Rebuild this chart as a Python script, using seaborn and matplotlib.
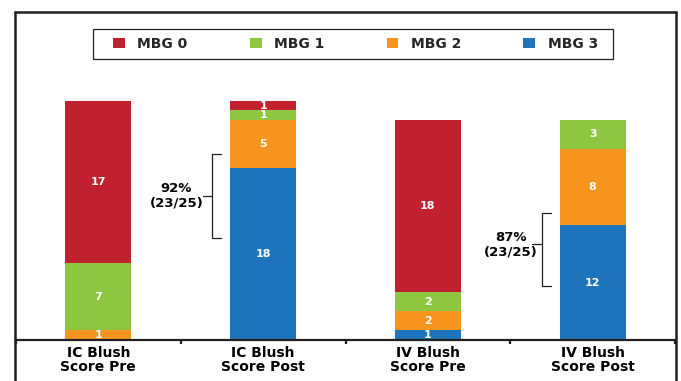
import matplotlib
matplotlib.use("Agg")
import matplotlib.pyplot as plt
from matplotlib.patches import Patch, Rectangle
from matplotlib.lines import Line2D
import numpy as np
import pandas as pd
import seaborn as sns

# Blush grade counts per assessment
categories = ["IC Blush\nScore Pre", "IC Blush\nScore Post",
              "IV Blush\nScore Pre", "IV Blush\nScore Post"]
grades = ["MBG 0", "MBG 1", "MBG 2", "MBG 3"]
mbg0 = [17, 1, 18, 0]
mbg1 = [7, 1, 2, 3]
mbg2 = [1, 5, 2, 8]
mbg3 = [0, 18, 1, 12]
bracket_labels = ["92%\n(23/25)", "87%\n(23/25)"]

colors = ["#C1202E", "#8DC63F", "#F7941D", "#1F75BC"]
ink = "#231F20"

sns.set_theme(style="white")
plt.rcParams["font.family"] = ["DejaVu Sans"]
plt.rcParams["font.weight"] = "bold"

W, H = 681, 381
fig = plt.figure(figsize=(W / 100, H / 100), dpi=100)
ax = fig.add_axes([16 / W, 1 - 340 / H, (675 - 16) / W, (340 - 12) / H])

counts = np.array([mbg0, mbg1, mbg2, mbg3], dtype=float)
# stack from the bottom: MBG 3, MBG 2, MBG 1, MBG 0
stack_order = [3, 2, 1, 0]
bottoms = np.zeros(len(categories))
segments = []
for g in stack_order:
    segments.append((g, bottoms.copy(), counts[g]))
    bottoms = bottoms + counts[g]

# draw cumulative heights, tallest first, so each layer shows as a segment
for g, base, vals in reversed(segments):
    df = pd.DataFrame({"cat": categories, "top": base + vals})
    sns.barplot(data=df, x="cat", y="top", order=categories, color=colors[g],
                width=0.4, saturation=1, linewidth=0, ax=ax)

for g, base, vals in segments:
    for i, v in enumerate(vals):
        if v > 0:
            ax.text(i, base[i] + v / 2, f"{int(v)}", ha="center", va="center",
                    color="white", fontsize=8, fontweight="bold")

ax.set_xlim(-0.5, len(categories) - 0.5)
ax.set_ylim(0, 34.3)
ax.set_xlabel("")
ax.set_ylabel("")
ax.set_yticks([])
for s in ["left", "right", "top"]:
    ax.spines[s].set_visible(False)
ax.spines["bottom"].set_color(ink)
ax.spines["bottom"].set_linewidth(1.6)
ax.set_xticks(range(len(categories)))
ax.set_xticklabels(categories, fontsize=10, fontweight="bold", color="black",
                   linespacing=1.0)
ax.set_xticks(np.arange(-0.5, len(categories), 1.0), minor=True)
ax.tick_params(axis="x", which="major", length=0, pad=4)
ax.tick_params(axis="x", which="minor", bottom=True, direction="out",
               length=3, width=1.6, color=ink)

# brackets grouping MBG 2 + MBG 3 of the post-procedure bars
brackets = [
    # (x of spine, hook end, tick start, y top, y bottom, y mid, text x)
    (0.692, 0.747, 0.633, 19.45, 10.65, 15.05, 0.474),
    (2.692, 2.747, 2.632, 13.3, 5.6, 10.0, 2.504),
]
for (xv, xh, xt, yt, yb, ym, tx), lab in zip(brackets, bracket_labels):
    ax.plot([xh, xv, xv, xh], [yt, yt, yb, yb], color=ink, lw=0.9,
            solid_joinstyle="round")
    ax.plot([xt, xv], [ym, ym], color=ink, lw=0.9)
    ax.text(tx, ym, lab, ha="center", va="center", fontsize=9.5,
            fontweight="bold", color="black", linespacing=1.15)

# legend row inside its own box
handles = [Patch(facecolor=c, edgecolor="none", label=l)
           for c, l in zip(colors, grades)]
fig.legend(handles=handles, ncol=4, frameon=False, mode="expand",
           loc="center", bbox_to_anchor=(113 / W, 1 - 52 / H, 485 / W, 16 / H),
           bbox_transform=fig.transFigure, borderpad=0, borderaxespad=0,
           handlelength=0.85, handleheight=0.8, handletextpad=0.9,
           prop={"size": 10, "weight": "bold"})
fig.patches.append(Rectangle((93 / W, 1 - 59 / H), 520 / W, 30 / H,
                             transform=fig.transFigure, fill=False,
                             edgecolor=ink, lw=0.9))

# outer frame
frame_kw = dict(transform=fig.transFigure, color=ink, lw=1.8)
fig.add_artist(Line2D([15 / W, 15 / W], [0, 1 - 12 / H], **frame_kw))
fig.add_artist(Line2D([15 / W, 676 / W], [1 - 12 / H, 1 - 12 / H], **frame_kw))
fig.add_artist(Line2D([676 / W, 676 / W], [0, 1 - 12 / H], **frame_kw))

fig.savefig("out.png", dpi=100, facecolor="white")
